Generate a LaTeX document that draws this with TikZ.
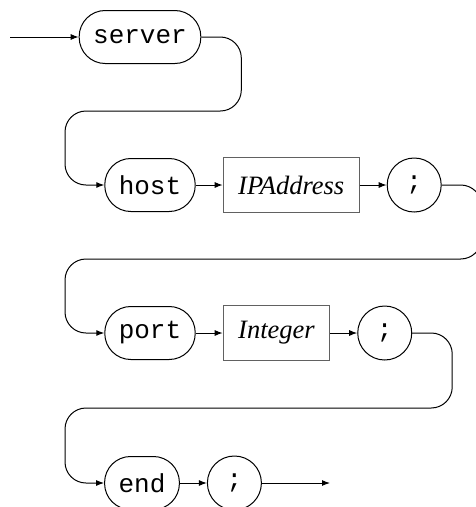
\documentclass[tikz,border=0pt]{standalone}
\usepackage{fontspec}
\setmainfont{Liberation Serif}
\setmonofont{Liberation Mono}
\usetikzlibrary{positioning,arrows.meta}

\tikzset{
  rail/.style={line width=1pt,rounded corners=21pt,-{Latex[length=8pt,width=6pt]}},
  keyword/.style={draw,line width=1pt,rounded corners=26pt,minimum height=53pt,inner xsep=14pt,font=\fontsize{26}{30}\ttfamily},
  punct/.style={draw,line width=1pt,circle,minimum size=54pt,inner sep=0pt,font=\fontsize{26}{30}\ttfamily},
  nonterm/.style={draw=black!62,line width=1pt,sharp corners,minimum height=55pt,inner xsep=15pt,font=\fontsize{26.5}{30}\itshape}
}

\begin{document}
\begin{tikzpicture}[x=1pt,y=-1pt,node distance=27pt]
  \useasboundingbox (0,0) rectangle (475,507);
  % row 1
  \coordinate (in) at (10,37);
  \node[keyword] (server) at (140,37) {server};
  % row 2
  \node[keyword] (host) at (150,185) {host};
  \node[nonterm,right=of host] (ip) {IPAddress};
  \node[punct,right=of ip] (semiA) {;};
  % row 3
  \node[keyword] (port) at (150,333) {port};
  \node[nonterm,right=of port] (int) {Integer};
  \node[punct,right=of int] (semiB) {;};
  % row 4
  \node[keyword] (end) at (142,483) {end};
  \node[punct,right=of end] (semiC) {;};
  \coordinate (out) at (330,483);

  \draw[rail] (in) -- (server);
  \draw[rail] (server.east) -- ++(40,0) |- (65,111) |- (host.west);
  \draw[rail] (host) -- (ip);
  \draw[rail] (ip) -- (semiA);
  \draw[rail] (semiA.east) -- ++(40,0) |- (65,259) |- (port.west);
  \draw[rail] (port) -- (int);
  \draw[rail] (int) -- (semiB);
  \draw[rail] (semiB.east) -- ++(40,0) |- (65,408) |- (end.west);
  \draw[rail] (end) -- (semiC);
  \draw[rail] (semiC) -- (out);
\end{tikzpicture}
\end{document}
